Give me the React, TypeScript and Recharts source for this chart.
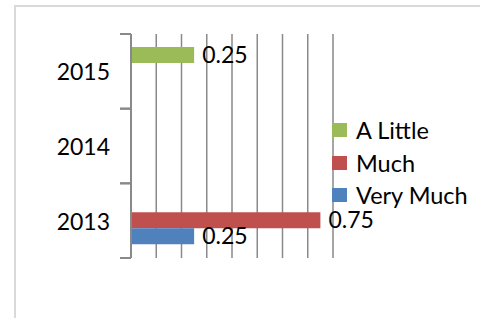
import React from "react";
import {
  BarChart,
  Bar,
  XAxis,
  YAxis,
  CartesianGrid,
  Legend,
  LabelList,
} from "recharts";

const years = ["2013", "2014", "2015"];
const aLittle = [null, null, 0.25];
const much = [0.75, null, null];
const veryMuch = [0.25, null, null];
const xTicks = [0, 0.1, 0.2, 0.3, 0.4, 0.5, 0.6, 0.7, 0.8];

const series = [
  { key: "A Little", values: aLittle, color: "#9BBB59" },
  { key: "Much", values: much, color: "#C0504D" },
  { key: "Very Much", values: veryMuch, color: "#4F81BD" },
];

const data = years.map((year, i) => {
  const row: Record<string, string | number | null> = { year };
  series.forEach((s) => {
    row[s.key] = s.values[i];
  });
  return row;
});

const FONT = "Lato, 'Open Sans', sans-serif";
const AXIS = "#898989";
const TICK_MARGIN = 21;
const TICK_LEN = 11;

// category label + Excel-style tick marks at the band edges
const YearTick = (props: any) => {
  const { x, y, payload } = props;
  const half = payload.offset || 0;
  const x2 = x + TICK_MARGIN;
  const x1 = x2 - TICK_LEN;
  return (
    <g>
      <line x1={x1} x2={x2} y1={y - half} y2={y - half} stroke={AXIS} strokeWidth={2} />
      <line x1={x1} x2={x2} y1={y + half} y2={y + half} stroke={AXIS} strokeWidth={2} />
      <text
        x={x}
        y={y}
        textAnchor="end"
        dominantBaseline="central"
        fontSize={23}
        fontFamily={FONT}
        fill="#000"
      >
        {payload.value}
      </text>
    </g>
  );
};

const renderLegend = (props: any) => {
  const { payload } = props;
  return (
    <div style={{ fontFamily: FONT, fontSize: 23.5, color: "#000" }}>
      {payload.map((entry: any) => (
        <div
          key={entry.value}
          style={{ display: "flex", alignItems: "center", height: 32.5 }}
        >
          <span
            style={{
              display: "inline-block",
              width: 15,
              height: 14,
              background: entry.color,
              marginRight: 9,
            }}
          />
          <span>{entry.value}</span>
        </div>
      ))}
    </div>
  );
};

const App = () => {
  return (
    <div style={{ position: "absolute", left: 0, top: 0, width: 480, height: 318, background: "#fff" }}>
      <div
        style={{
          position: "absolute",
          left: 14,
          top: 5,
          right: -10,
          bottom: -10,
          borderLeft: "2px solid #d9d9d9",
          borderTop: "2px solid #d9d9d9",
        }}
      />
      <div style={{ position: "absolute", left: 0, top: 0 }}>
        <BarChart
          width={480}
          height={318}
          data={data}
          layout="vertical"
          margin={{ top: 34, right: 0, bottom: 60, left: 0 }}
          barSize={16}
          barGap={0}
        >
          <CartesianGrid
            horizontal={false}
            vertical={true}
            stroke={AXIS}
            strokeWidth={1.5}
          />
          <XAxis
            type="number"
            domain={[0, 0.8]}
            ticks={xTicks}
            hide
          />
          <YAxis
            type="category"
            dataKey="year"
            reversed
            width={131}
            axisLine={{ stroke: AXIS, strokeWidth: 2 }}
            tickLine={false}
            tickSize={0}
            tickMargin={TICK_MARGIN}
            interval={0}
            tick={<YearTick />}
          />
          <Legend
            layout="vertical"
            align="right"
            verticalAlign="middle"
            content={renderLegend}
            wrapperStyle={{ left: 332, top: 114, width: 147 }}
          />
          {series.map((s) => (
            <Bar
              key={s.key}
              dataKey={s.key}
              fill={s.color}
              isAnimationActive={false}
            >
              <LabelList
                dataKey={s.key}
                position="right"
                offset={8}
                style={{ fontSize: 23, fill: "#000", fontFamily: FONT }}
              />
            </Bar>
          ))}
        </BarChart>
      </div>
    </div>
  );
};

export default App;
